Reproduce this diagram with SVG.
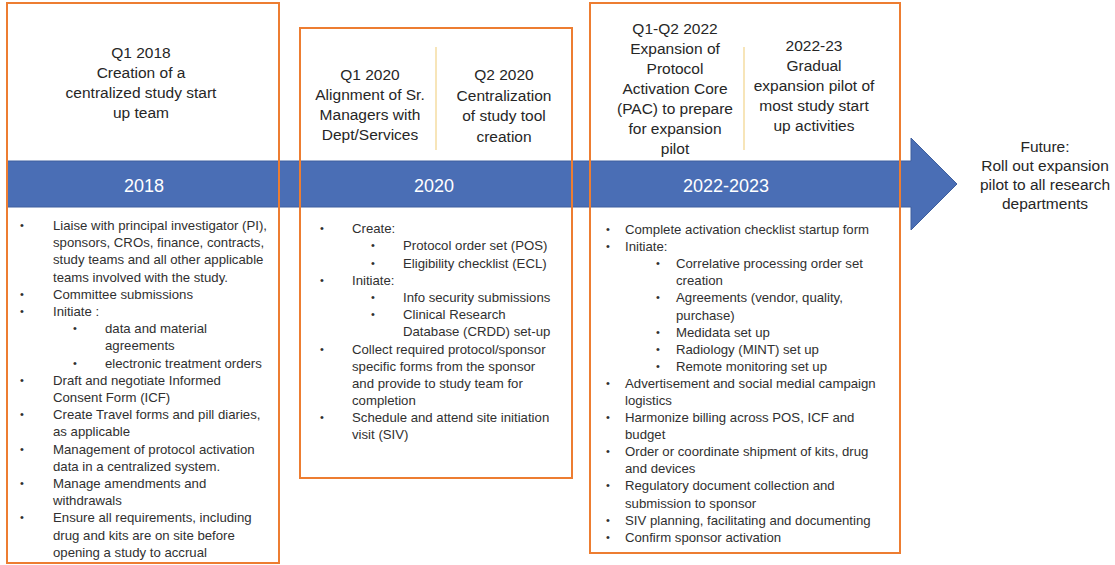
<svg xmlns="http://www.w3.org/2000/svg" width="1115" height="565" viewBox="0 0 1115 565">
<style>
.box{fill:none;stroke:#ED7D31;stroke-width:2}
.div{stroke:#F2D48A;stroke-width:1.2}
.hd{font-family:"Liberation Sans",Arial,sans-serif;font-size:15.5px;fill:#262626;text-anchor:middle}
.yr{font-family:"Liberation Sans",Arial,sans-serif;font-size:18px;fill:#FFFFFF;text-anchor:middle}
.bd{font-family:"Liberation Sans",Arial,sans-serif;font-size:13.2px;fill:#303030}
.bu{font-family:"Liberation Sans",Arial,sans-serif;font-size:11px;fill:#303030}
</style>
<rect width="1115" height="565" fill="#FFFFFF"/>
<g id="connectors">
<path d="M7,161 H911 V138 L957,184 L911,230 V207 H7 Z" fill="#4A6EB5" stroke="#3E5F9E" stroke-width="1"/>
</g>
<g id="band-labels">
<text class="yr" x="144" y="191.5">2018</text>
<text class="yr" x="434" y="191.5">2020</text>
<text class="yr" x="726" y="191.5">2022-2023</text>
</g>
<g id="node-2018">
<rect class="box" x="7" y="3" width="272" height="560"/>
<text class="hd" x="141" y="57.5">Q1 2018</text>
<text class="hd" x="141" y="77.5">Creation of a</text>
<text class="hd" x="141" y="98">centralized study start</text>
<text class="hd" x="141" y="118">up team</text>
<g class="bu">
<text x="20" y="229">•</text><text x="20" y="298">•</text><text x="20" y="315">•</text>
<text x="73" y="332">•</text><text x="73" y="367">•</text>
<text x="20" y="384">•</text><text x="20" y="418">•</text><text x="20" y="453">•</text><text x="20" y="487">•</text><text x="20" y="521">•</text>
</g>
<g class="bd">
<text x="53" y="229.5">Liaise with principal investigator (PI),</text>
<text x="53" y="246.5">sponsors, CROs, finance, contracts,</text>
<text x="53" y="263.5">study teams and all other applicable</text>
<text x="53" y="281.5">teams involved with the study.</text>
<text x="53" y="298.5">Committee submissions</text>
<text x="53" y="315.5">Initiate :</text>
<text x="105" y="332.5">data and material</text>
<text x="105" y="349.5">agreements</text>
<text x="105" y="367.5">electronic treatment orders</text>
<text x="53" y="384.5">Draft and negotiate Informed</text>
<text x="53" y="401.5">Consent Form (ICF)</text>
<text x="53" y="418.5">Create Travel forms and pill diaries,</text>
<text x="53" y="435.5">as applicable</text>
<text x="53" y="453.5">Management of protocol activation</text>
<text x="53" y="470.5">data in a centralized system.</text>
<text x="53" y="487.5">Manage amendments and</text>
<text x="53" y="504.5">withdrawals</text>
<text x="53" y="521.5">Ensure all requirements, including</text>
<text x="53" y="539.5">drug and kits are on site before</text>
<text x="53" y="556.5">opening a study to accrual</text>
</g>
</g>
<g id="node-2020">
<rect class="box" x="300" y="28" width="272" height="450"/>
<line class="div" x1="436" y1="47" x2="436" y2="150"/>
<text class="hd" x="370" y="79.5">Q1 2020</text>
<text class="hd" x="370" y="99.5">Alignment of Sr.</text>
<text class="hd" x="370" y="119.5">Managers with</text>
<text class="hd" x="370" y="139.5">Dept/Services</text>
<text class="hd" x="504" y="79.5">Q2 2020</text>
<text class="hd" x="504" y="100.5">Centralization</text>
<text class="hd" x="504" y="121">of study tool</text>
<text class="hd" x="504" y="141.5">creation</text>
<g class="bu">
<text x="320" y="232">•</text><text x="371" y="249">•</text><text x="371" y="267">•</text>
<text x="320" y="284">•</text><text x="371" y="301">•</text><text x="371" y="318">•</text>
<text x="320" y="353">•</text><text x="320" y="421">•</text>
</g>
<g class="bd">
<text x="352" y="232.5">Create:</text>
<text x="403" y="249.5">Protocol order set (POS)</text>
<text x="403" y="267.5">Eligibility checklist (ECL)</text>
<text x="352" y="284.5">Initiate:</text>
<text x="403" y="301.5">Info security submissions</text>
<text x="403" y="318.5">Clinical Research</text>
<text x="403" y="335.5">Database (CRDD) set-up</text>
<text x="352" y="353.5">Collect required protocol/sponsor</text>
<text x="352" y="370.5">specific forms from the sponsor</text>
<text x="352" y="387.5">and provide to study team for</text>
<text x="352" y="404.5">completion</text>
<text x="352" y="421.5">Schedule and attend site initiation</text>
<text x="352" y="438.5">visit (SIV)</text>
</g>
</g>
<g id="node-2022-2023">
<rect class="box" x="590" y="3" width="310" height="550"/>
<line class="div" x1="744" y1="47" x2="744" y2="150"/>
<text class="hd" x="675" y="33.5">Q1-Q2 2022</text>
<text class="hd" x="675" y="53.5">Expansion of</text>
<text class="hd" x="675" y="73.5">Protocol</text>
<text class="hd" x="675" y="93.5">Activation Core</text>
<text class="hd" x="675" y="113.5">(PAC) to prepare</text>
<text class="hd" x="675" y="133.5">for expansion</text>
<text class="hd" x="675" y="153.5">pilot</text>
<text class="hd" x="814" y="50.5">2022-23</text>
<text class="hd" x="814" y="70.5">Gradual</text>
<text class="hd" x="814" y="90.5">expansion pilot of</text>
<text class="hd" x="814" y="110.5">most study start</text>
<text class="hd" x="814" y="130.5">up activities</text>
<g class="bu">
<text x="606" y="233">•</text><text x="606" y="250">•</text>
<text x="656" y="267">•</text><text x="656" y="301">•</text><text x="656" y="336">•</text><text x="656" y="353">•</text><text x="656" y="370">•</text>
<text x="606" y="387">•</text><text x="606" y="421">•</text><text x="606" y="455">•</text><text x="606" y="489">•</text><text x="606" y="524">•</text><text x="606" y="541">•</text>
</g>
<g class="bd">
<text x="625" y="233.5">Complete activation checklist startup form</text>
<text x="625" y="250.5">Initiate:</text>
<text x="676" y="267.5">Correlative processing order set</text>
<text x="676" y="284.5">creation</text>
<text x="676" y="301.5">Agreements (vendor, quality,</text>
<text x="676" y="319.5">purchase)</text>
<text x="676" y="336.5">Medidata set up</text>
<text x="676" y="353.5">Radiology (MINT) set up</text>
<text x="676" y="370.5">Remote monitoring set up</text>
<text x="625" y="387.5">Advertisement and social medial campaign</text>
<text x="625" y="404.5">logistics</text>
<text x="625" y="421.5">Harmonize billing across POS, ICF and</text>
<text x="625" y="438.5">budget</text>
<text x="625" y="455.5">Order or coordinate shipment of kits, drug</text>
<text x="625" y="472.5">and devices</text>
<text x="625" y="489.5">Regulatory document collection and</text>
<text x="625" y="507.5">submission to sponsor</text>
<text x="625" y="524.5">SIV planning, facilitating and documenting</text>
<text x="625" y="541.5">Confirm sponsor activation</text>
</g>
</g>
<g id="node-future">
<text class="hd" x="1045" y="151.5">Future:</text>
<text class="hd" x="1045" y="170.5">Roll out expansion</text>
<text class="hd" x="1045" y="189.5">pilot to all research</text>
<text class="hd" x="1045" y="208.5">departments</text>
</g>
</svg>
